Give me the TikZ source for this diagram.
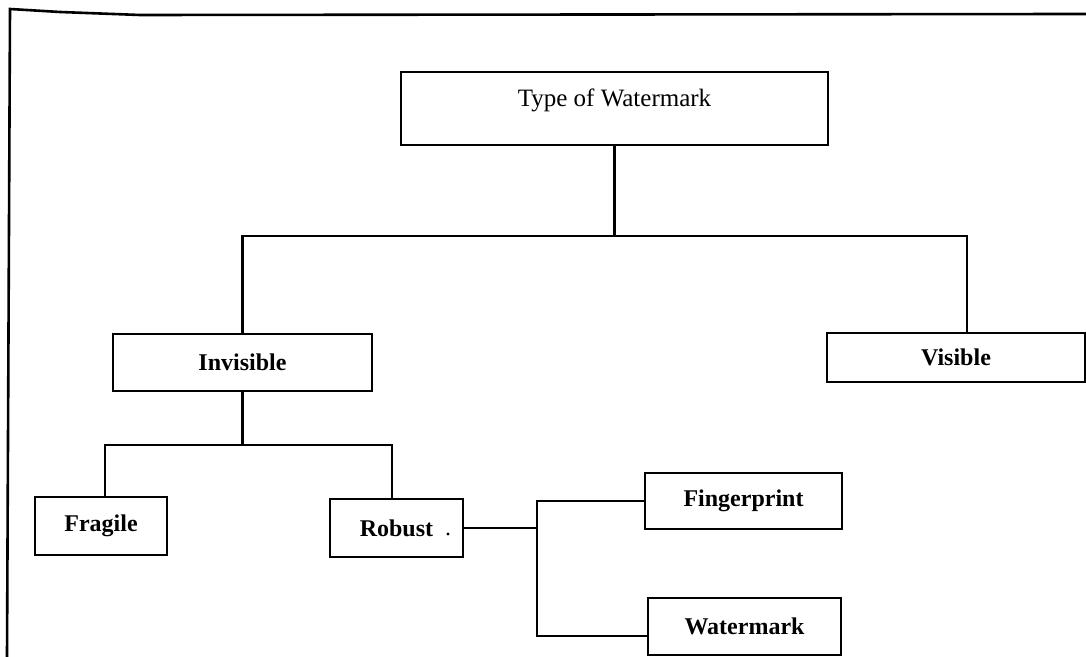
\documentclass[tikz,border=0pt]{standalone}
\usepackage{fontspec}
\setmainfont{Liberation Serif}
\begin{document}
\begin{tikzpicture}[x=0.5pt,y=-0.5pt,
  line width=1.4pt,
  box/.style={draw, rectangle, inner sep=0pt, line width=1.4pt,
    font=\fontsize{12}{14}\selectfont\bfseries},
  link/.style={line width=1.3pt},
  frame/.style={line width=1.3pt}]
\useasboundingbox (0,0) rectangle (1086,657);

% page frame (top and left edges)
\draw[frame] (1086,14) -- (140,15) -- (60,12) -- (10,9) -- (7,657);

% boxes
\node[box, minimum width=213.5pt, minimum height=36.5pt,
      font=\fontsize{12.5}{14}\selectfont, text height=17.5pt, text depth=19pt]
      (type) at (614.5,108.5) {Type of Watermark};
\node[box, minimum width=129.5pt, minimum height=28.5pt] (inv)  at (242.5,362.5) {Invisible};
\node[box, minimum width=129pt,   minimum height=24.5pt] (vis)  at (956,357.5)   {Visible};
\node[box, minimum width=66pt,    minimum height=29pt]   (frag) at (101,526)     {Fragile};
\node[box, minimum width=66.5pt,  minimum height=29pt]   (rob)  at (396.5,528)   {Robust};
\node[box, minimum width=98.5pt,  minimum height=28pt]   (fing) at (743.5,501)   {Fingerprint};
\node[box, minimum width=96.5pt,  minimum height=28.5pt] (wm)   at (744.5,626.5) {Watermark};

% stray dot beside Robust
\fill (448,534) circle (0.8pt);

% first level: Type -> Invisible / Visible
\coordinate (h1l) at (242,236);
\coordinate (h1r) at (967,236);
\draw[link] (type.south) -- (type.south |- h1l);
\draw[link] (inv.north) |- (h1r) -- (vis.north -| h1r);

% second level: Invisible -> Fragile / Robust
\coordinate (h2l) at (105,445);
\coordinate (h2r) at (392,445);
\draw[link] (inv.south) -- (inv.south |- h2l);
\draw[link] (frag.north -| h2l) -- (h2l) -- (h2r) -- (rob.north -| h2r);

% third level: Robust -> Fingerprint / Watermark
\coordinate (v3) at (537,527);
\coordinate (wm3) at (648,636);
\draw[link] (rob.east) -- (rob.east -| v3);
\draw[link] (fing.west) -| (v3 |- wm3) -- (wm3);
\end{tikzpicture}
\end{document}
